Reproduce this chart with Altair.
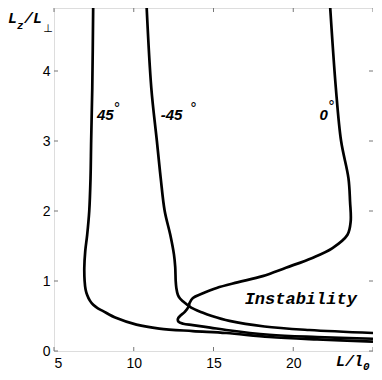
import altair as alt
import pandas as pd

# ---- data ----
L_45 = [7.46, 7.40, 7.33, 7.29, 7.21, 7.08, 6.96, 6.90, 6.92, 6.98, 7.08, 7.25, 7.46, 7.75, 8.08, 8.92, 10.17, 11.6, 13.7, 15.8, 18.5, 21.5, 25.0]
Z_45 = [5.0, 3.76, 3.0, 2.47, 2.0, 1.66, 1.43, 1.19, 1.0, 0.88, 0.80, 0.72, 0.66, 0.61, 0.57, 0.47, 0.376, 0.32, 0.285, 0.257, 0.20, 0.165, 0.135]

L_m45 = [10.79, 11.1, 11.45, 11.69, 11.94, 12.29, 12.52, 12.60, 12.63, 12.67, 12.77, 12.9, 13.08, 13.6, 14.3, 14.9, 16.0, 18.2, 21.0, 25.0]
Z_m45 = [5.0, 3.76, 3.0, 2.47, 2.0, 1.66, 1.38, 1.2, 1.0, 0.9, 0.80, 0.75, 0.71, 0.62, 0.55, 0.50, 0.43, 0.35, 0.30, 0.257]

L_0 = [22.29, 22.67, 23.0, 23.46, 23.56, 23.6, 23.4, 22.46, 21.2, 19.54, 18.08, 16.5, 15.2, 14.3, 13.71, 13.5, 13.45, 13.2, 12.9, 12.77, 12.8, 13.1, 13.7, 14.8, 15.8, 18.5, 21.5, 25.0]
Z_0 = [5.0, 3.76, 3.0, 2.47, 2.14, 1.85, 1.66, 1.47, 1.33, 1.19, 1.07, 0.98, 0.9, 0.82, 0.757, 0.686, 0.64, 0.56, 0.50, 0.46, 0.42, 0.39, 0.37, 0.335, 0.30, 0.232, 0.20, 0.175]

x_ticks = [5, 10, 15, 20, 25]
x_labels = [5, 10, 15, 20]
y_ticks = [0, 1, 2, 3, 4]

angle_labels = ["45", "-45", "0"]
angle_L = [7.69, 11.69, 21.65]
angle_Z = [3.37, 3.37, 3.37]
degree_L = [8.95, 13.75, 22.4]
degree_Z = [3.46, 3.46, 3.48]

region_label = "Instability"
region_L = 20.47
region_Z = 0.74

# ---- layout ----
W, H = 319, 343
YMAX = H / 70.0

rows = []
for name, Ls, Zs in [("45", L_45, Z_45), ("-45", L_m45, Z_m45), ("0", L_0, Z_0)]:
    for i, (a, b) in enumerate(zip(Ls, Zs)):
        rows.append({"curve": name, "idx": i, "L": a, "Lz": b})
curves_df = pd.DataFrame(rows)

xsc = alt.Scale(domain=[5, 25], nice=False, zero=False)
ysc = alt.Scale(domain=[0, YMAX], nice=False, zero=False)

base_x = alt.X("L:Q", scale=xsc, axis=alt.Axis(values=x_labels, format="d", title=None, domain=False, ticks=False,
                                                  grid=False, labelFont="Liberation Sans", labelFontSize=14,
                                                  labelColor="black", labelPadding=5))
base_y = alt.Y("Lz:Q", scale=ysc, axis=alt.Axis(values=y_ticks, format="d", title=None, domain=False, ticks=False,
                                                   grid=False, labelFont="Liberation Sans", labelFontSize=14,
                                                   labelColor="black", labelPadding=4))

lines = alt.Chart(curves_df).mark_line(color="black", strokeWidth=2.7, interpolate="catmull-rom", clip=True).encode(
    x=base_x, y=base_y, detail="curve:N", order="idx:Q")

tick_color = "#777777"
xt = pd.DataFrame({"L": x_ticks})
yt = pd.DataFrame({"Lz": y_ticks})
xt_bot = alt.Chart(xt).mark_rule(color=tick_color, strokeWidth=1).encode(
    x=alt.X("L:Q", scale=xsc), y=alt.value(H), y2=alt.value(H - 4))
xt_top = alt.Chart(xt).mark_rule(color=tick_color, strokeWidth=1).encode(
    x=alt.X("L:Q", scale=xsc), y=alt.value(0), y2=alt.value(4))
yt_left = alt.Chart(yt).mark_rule(color=tick_color, strokeWidth=1).encode(
    y=alt.Y("Lz:Q", scale=ysc), x=alt.value(0), x2=alt.value(4))
yt_right = alt.Chart(yt).mark_rule(color=tick_color, strokeWidth=1).encode(
    y=alt.Y("Lz:Q", scale=ysc), x=alt.value(W), x2=alt.value(W - 4))

lab_df = pd.DataFrame({"t": angle_labels, "L": angle_L, "Lz": angle_Z})
deg_df = pd.DataFrame({"t": ["°"] * 3, "L": degree_L, "Lz": degree_Z})
labels = alt.Chart(lab_df).mark_text(font="Liberation Sans", fontSize=15, fontWeight="bold", fontStyle="italic",
                                     align="left", baseline="middle", color="black").encode(
    x=alt.X("L:Q", scale=xsc), y=alt.Y("Lz:Q", scale=ysc), text="t:N")
degs = alt.Chart(deg_df).mark_text(font="DejaVu Sans", fontSize=14, align="center", baseline="middle",
                                   color="black").encode(
    x=alt.X("L:Q", scale=xsc), y=alt.Y("Lz:Q", scale=ysc), text="t:N")

inst_df = pd.DataFrame({"t": [region_label], "L": [region_L], "Lz": [region_Z]})
inst = alt.Chart(inst_df).mark_text(font="Liberation Mono", fontSize=17, fontWeight="bold", fontStyle="italic",
                                    align="center", baseline="middle", color="black").encode(
    x=alt.X("L:Q", scale=xsc), y=alt.Y("Lz:Q", scale=ysc), text="t:N")


# axis titles built from pieces (subscripts)
def piece(txt, x, y, size, font="Liberation Mono", weight="bold", style="italic", align="left"):
    return alt.Chart(pd.DataFrame({"t": [txt]})).mark_text(
        font=font, fontSize=size, fontWeight=weight, fontStyle=style, align=align,
        baseline="alphabetic", color="black").encode(text="t:N", x=alt.value(x), y=alt.value(y))


title_parts = [
    piece("L", -46, 15, 15),
    piece("z", -37, 21, 11),
    piece("/", -30, 15, 15),
    piece("L", -21, 15, 15),
    piece("⊥", -6, 24, 11, font="DejaVu Sans", weight="normal", style="normal", align="center"),
    piece("L/l", 282, 358, 15),
    piece("0", 309, 362, 11),
]

chart = alt.layer(lines, xt_bot, xt_top, yt_left, yt_right, labels, degs, inst, *title_parts).properties(
    width=W, height=H,
    autosize=alt.AutoSizeParams(type="none"),
    padding={"left": 46, "top": 0, "right": 0, "bottom": 21},
).configure_view(stroke="#666666", strokeWidth=1).configure(background="white")

chart.save("out.html", embed_options={"renderer": "svg", "actions": False})
